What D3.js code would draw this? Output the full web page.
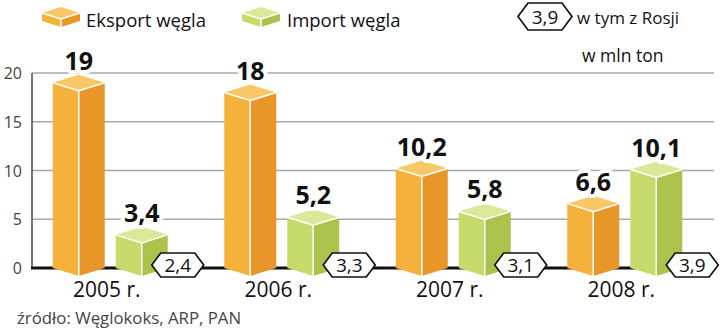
<!DOCTYPE html>
<html><head><meta charset="utf-8">
<script src="https://cdn.jsdelivr.net/npm/d3@7"></script>
<style>
html,body{margin:0;padding:0;background:#fff;}
svg{display:block;font-family:"Open Sans","Noto Sans",sans-serif;}
</style></head>
<body>
<svg id="chart" width="720" height="332"></svg>
<script>
const years = ["2005 r.", "2006 r.", "2007 r.", "2008 r."];
const exportValues = [19, 18, 10.2, 6.6];
const importValues = [3.4, 5.2, 5.8, 10.1];
const russiaValues = [2.4, 3.3, 3.1, 3.9];
const yTicks = [0, 5, 10, 15, 20];
const seriesNames = ["Eksport węgla", "Import węgla"];
const fmt = v => String(v).replace(".", ",");

const svg = d3.select("#chart");
const y = d3.scaleLinear().domain([0, 20]).range([268, 73]);
const x = d3.scaleBand().domain(years).range([24, 710]);
const colors = {
  exp: {left: "#f4b23c", right: "#e8952a", top: "#f8c766"},
  imp: {left: "#c6db6c", right: "#abc34c", top: "#dae898"}
};
const DY = 8, BW = 52;

svg.append("g").selectAll("line").data(yTicks.filter(t => t > 0)).join("line")
  .attr("x1", 32).attr("x2", 714).attr("y1", d => y(d)).attr("y2", d => y(d))
  .attr("stroke", "#a9a9a9").attr("stroke-width", 1.6);
svg.append("line").attr("x1", 32).attr("x2", 32).attr("y1", y(20)).attr("y2", y(0))
  .attr("stroke", "#555").attr("stroke-width", 1.6);
svg.append("line").attr("x1", 31).attr("x2", 712).attr("y1", y(0)).attr("y2", y(0))
  .attr("stroke", "#111").attr("stroke-width", 3);
svg.append("g").selectAll("text").data(yTicks).join("text")
  .attr("x", 22).attr("y", d => y(d) + 6).attr("text-anchor", "end")
  .attr("font-size", 16).attr("fill", "#444").text(d => d);

function cube(g, x0, w, yTop, yBase, dy, c) {
  const mid = x0 + w / 2;
  const pts = a => a.map(p => p.join(",")).join(" ");
  g.append("polygon").attr("points", pts([[x0, yTop], [mid, yTop + dy], [mid, yBase + dy], [x0, yBase]]))
    .attr("fill", c.left);
  g.append("polygon").attr("points", pts([[mid, yTop + dy], [x0 + w, yTop], [x0 + w, yBase], [mid, yBase + dy]]))
    .attr("fill", c.right);
  g.append("polygon").attr("points", pts([[x0, yTop], [mid, yTop - dy], [x0 + w, yTop], [mid, yTop + dy]]))
    .attr("fill", c.top);
  g.append("polyline").attr("points", pts([[x0, yTop], [mid, yTop + dy], [x0 + w, yTop]]))
    .attr("fill", "none").attr("stroke", "#fff").attr("stroke-width", 1.5);
  g.append("line").attr("x1", mid).attr("x2", mid).attr("y1", yTop + dy).attr("y2", yBase + dy)
    .attr("stroke", "#fff").attr("stroke-width", 1.5);
}

function hex(g, cx, cy, w, h, inset) {
  const pts = [[cx - w/2, cy], [cx - w/2 + inset, cy - h/2], [cx + w/2 - inset, cy - h/2],
               [cx + w/2, cy], [cx + w/2 - inset, cy + h/2], [cx - w/2 + inset, cy + h/2]];
  g.append("polygon").attr("points", pts.map(p => p.join(",")).join(" "))
    .attr("fill", "#fff").attr("stroke", "#111").attr("stroke-width", 1.7);
}

const bars = svg.append("g");
years.forEach((yr, i) => {
  const cx = x(yr) + x.bandwidth() / 2;
  const ex0 = cx - 57, ix0 = cx + 6;
  cube(bars, ex0, BW, y(exportValues[i]), y(0), DY, colors.exp);
  cube(bars, ix0, BW, y(importValues[i]), y(0), DY, colors.imp);
  [[ex0, exportValues[i]], [ix0, importValues[i]]].forEach(([x0, v]) => {
    bars.append("text").attr("x", x0 + BW / 2).attr("y", y(v) - DY - 5)
      .attr("text-anchor", "middle").attr("font-size", 25).attr("font-weight", 700)
      .attr("fill", "#111").attr("stroke", "#fff").attr("stroke-width", 8)
      .attr("paint-order", "stroke").attr("stroke-linejoin", "round").text(fmt(v));
  });
  const hx = ix0 + BW + 10;
  hex(bars, hx, 265, 52, 24, 9);
  bars.append("text").attr("x", hx).attr("y", 271.5).attr("text-anchor", "middle")
    .attr("font-size", 19).attr("fill", "#111").text(fmt(russiaValues[i]));
  bars.append("text").attr("x", cx - 3).attr("y", 297).attr("text-anchor", "middle")
    .attr("font-size", 21).attr("fill", "#111").text(yr);
});

const leg = svg.append("g");
cube(leg, 42, 38, 13, 21, 6, colors.exp);
leg.append("text").attr("x", 86).attr("y", 27).attr("font-size", 18.5).attr("fill", "#111").text(seriesNames[0]);
cube(leg, 242, 38, 13, 21, 6, colors.imp);
leg.append("text").attr("x", 287).attr("y", 27).attr("font-size", 18.5).attr("fill", "#111").text(seriesNames[1]);
hex(leg, 545, 16.5, 54, 27, 10);
leg.append("text").attr("x", 545).attr("y", 23.5).attr("text-anchor", "middle")
  .attr("font-size", 19).attr("fill", "#111").text(fmt(russiaValues[3]));
leg.append("text").attr("x", 577).attr("y", 24).attr("font-size", 17).attr("fill", "#111").text("w tym z Rosji");
leg.append("text").attr("x", 582).attr("y", 62).attr("font-size", 17.5).attr("fill", "#111").text("w mln ton");

svg.append("text").attr("x", 17).attr("y", 324).attr("font-size", 16.8).attr("fill", "#444")
  .text("źródło: Węglokoks, ARP, PAN");
</script>
</body></html>
